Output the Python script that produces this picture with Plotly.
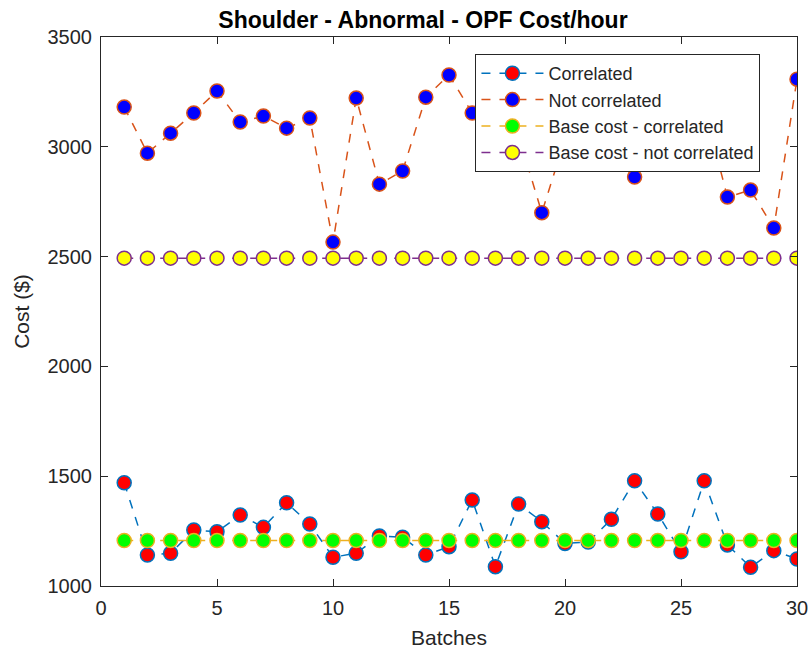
import plotly.graph_objects as go

batches = list(range(1, 31))
correlated = [1470, 1141, 1149, 1255, 1247, 1323, 1267, 1379, 1282, 1131,
              1149, 1228, 1222, 1141, 1179, 1392, 1088, 1373, 1293, 1194,
              1200, 1304, 1479, 1328, 1156, 1479, 1187, 1085, 1161, 1123]
not_correlated = [3181, 2971, 3062, 3154, 3254, 3113, 3140, 3085, 3131, 2566,
                  3222, 2830, 2890, 3226, 3327, 3154, 3100, 3050, 2700, 3035,
                  2950, 2960, 2862, 3000, 3100, 3180, 2771, 2803, 2630, 3308]
base_corr = [1207] * 30
base_notcorr = [2493] * 30

series = [
    ("Correlated", correlated, "#0072BD", "#FF0000"),
    ("Not correlated", not_correlated, "#D95319", "#0000FF"),
    ("Base cost - correlated", base_corr, "#EDB120", "#00FF00"),
    ("Base cost - not correlated", base_notcorr, "#7E2F8E", "#FFFF00"),
]

FONT = "Liberation Sans, Arial, Helvetica"

fig = go.Figure()
for name, vals, lc, fc in series:
    fig.add_trace(go.Scatter(
        x=batches, y=vals, name=name, mode="lines+markers",
        line=dict(color=lc, width=1.5, dash="dash"),
        marker=dict(symbol="circle", size=14, color=fc, line=dict(color=lc, width=1.5)),
    ))

axis_common = dict(
    showline=True, linecolor="#262626", linewidth=1, mirror="ticks",
    ticks="inside", ticklen=7, tickcolor="#262626", showgrid=False, zeroline=False,
    automargin=False,
    tickfont=dict(family=FONT, size=20, color="#262626"),
)

fig.update_layout(
    width=809, height=653,
    margin=dict(l=101, r=12, t=37, b=67),
    paper_bgcolor="white", plot_bgcolor="white",
    title=dict(text="<b>Shoulder - Abnormal - OPF Cost/hour</b>", x=0.4626, xref="paper",
               xanchor="center", y=1 - 19.5 / 653, yanchor="middle",
               font=dict(family=FONT, size=23, color="black")),
    xaxis=dict(range=[0, 30], tickvals=[0, 5, 10, 15, 20, 25, 30],
               ticklabelstandoff=4,
               title=dict(text="Batches", standoff=12,
                          font=dict(family=FONT, size=21, color="#262626")),
               **axis_common),
    yaxis=dict(range=[1000, 3500], tickvals=[1000, 1500, 2000, 2500, 3000, 3500],
               ticklabelstandoff=4,
               title=dict(text="Cost ($)", standoff=12,
                          font=dict(family=FONT, size=21, color="#262626")),
               **axis_common),
    legend=dict(x=0.538, y=0.969, xanchor="left", yanchor="top",
                bgcolor="white", bordercolor="#262626", borderwidth=1,
                font=dict(family=FONT, size=18, color="#262626"),
                itemwidth=62, tracegroupgap=0),
    showlegend=True,
)

fig.write_html("out.html")
